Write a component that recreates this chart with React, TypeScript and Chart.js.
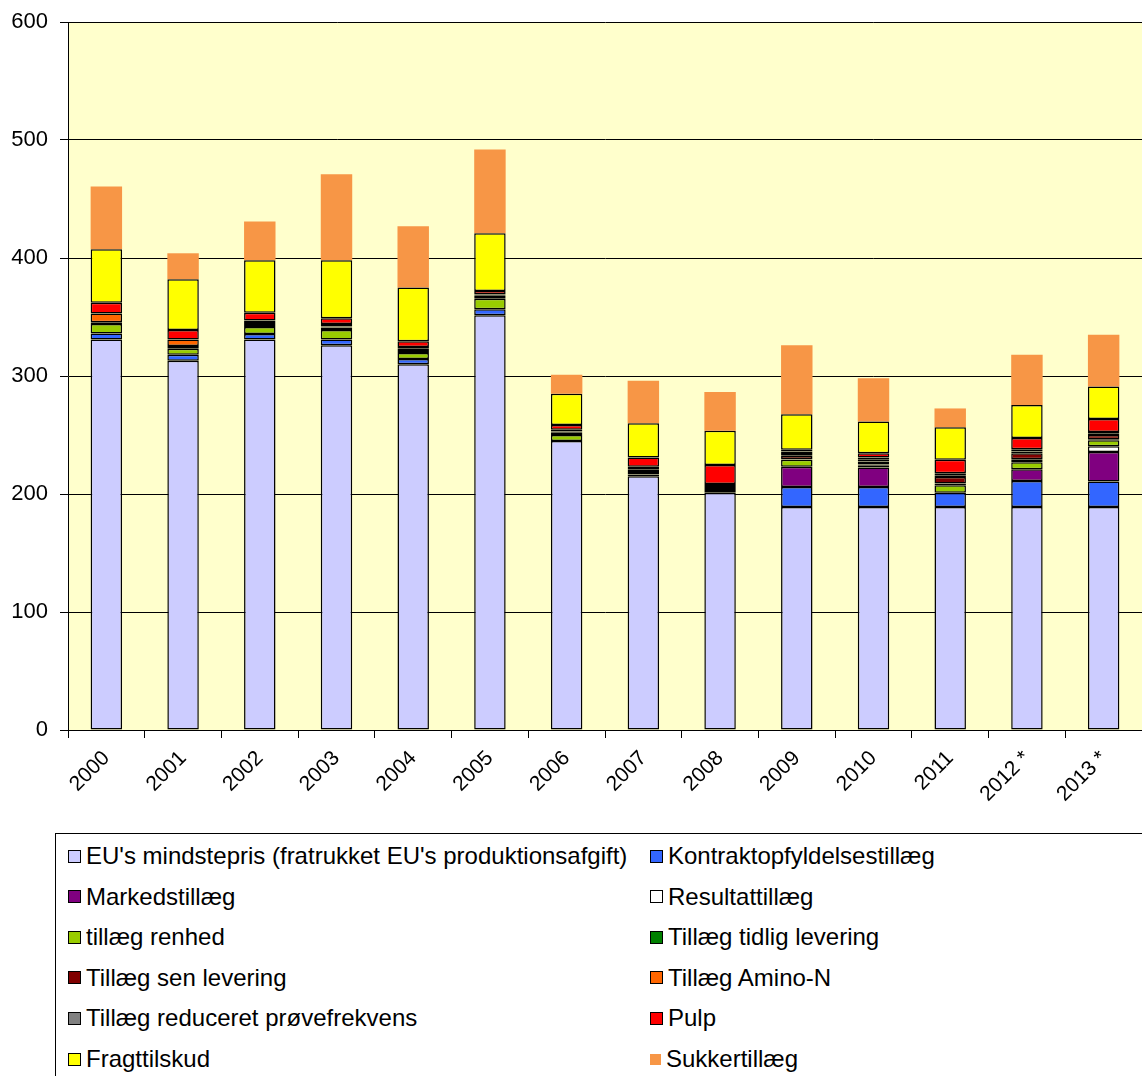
import React, { useEffect, useRef } from "react";
import { Chart, registerables } from "chart.js";

Chart.register(...registerables);

const years = ["2000", "2001", "2002", "2003", "2004", "2005", "2006", "2007", "2008", "2009", "2010", "2011", "2012 *", "2013 *"];
const yTicks = [0, 100, 200, 300, 400, 500, 600];

const euMindstepris = [331, 313, 331, 326, 310, 351.5, 245, 215, 201, 189, 189, 189, 189, 189];
const kontrakt = [5, 5, 4.5, 5, 4.5, 5, 0, 0, 1.5, 17, 17, 12, 22, 21.5];
const marked = [0, 0, 0, 0, 0, 0, 0, 0, 0, 17, 16.5, 0, 10, 25];
const resultat = [0, 0, 0, 0, 0, 0, 0, 0, 0, 0, 0, 0, 0, 5];
const renhed = [8, 5, 6, 8, 5, 9, 5, 1.5, 0, 6, 1.5, 6.5, 6, 5];
const tidlig = [0, 0, 0, 0, 0, 0, 0, 0.5, 0, 0.5, 1, 1.5, 2.5, 1];
const sen = [1.5, 2.5, 2.5, 2, 2.5, 1.5, 2, 2.5, 2.5, 3, 2.5, 5.5, 5, 3.5];
const amino = [7.5, 5.5, 1, 1, 1, 1, 1, 1, 1, 1.5, 1.5, 1, 1.5, 1];
const proeve = [0, 0, 2, 2, 1.5, 1, 1.5, 2.5, 2.5, 2, 2, 2, 2, 1.5];
const pulp = [9, 8, 6.5, 5, 5, 3, 4, 8, 16, 1.5, 3.5, 11.5, 9.5, 11];
const fragt = [45.5, 43, 44.5, 49, 45.5, 49, 26.5, 29, 29, 30, 27, 27.5, 28, 27.5];
const sukker = [53, 22, 33, 73, 52, 71, 16, 36, 33, 58.5, 36.5, 16, 42.5, 44];

const seriesNames = [
  "EU's mindstepris (fratrukket EU's produktionsafgift)",
  "Kontraktopfyldelsestillæg",
  "Markedstillæg",
  "Resultattillæg",
  "tillæg renhed",
  "Tillæg tidlig levering",
  "Tillæg sen levering",
  "Tillæg Amino-N",
  "Tillæg reduceret prøvefrekvens",
  "Pulp",
  "Fragttilskud",
  "Sukkertillæg",
];
const seriesValues = [euMindstepris, kontrakt, marked, resultat, renhed, tidlig, sen, amino, proeve, pulp, fragt, sukker];
const seriesColors = ["#CCCCFF", "#3366FF", "#800080", "#FFFFFF", "#99CC00", "#008000", "#800000", "#FF6600", "#808080", "#FF0000", "#FFFF00", "#F79646"];

const FONT = "'Liberation Sans', Arial, sans-serif";

const plotBg = {
  id: "plotBg",
  beforeDraw(chart: any) {
    const { ctx, chartArea } = chart;
    ctx.save();
    ctx.fillStyle = "#FFFFCC";
    ctx.fillRect(chartArea.left, chartArea.top, chartArea.right - chartArea.left, chartArea.bottom - chartArea.top);
    ctx.restore();
  },
};

export default function App() {
  const ref = useRef<HTMLCanvasElement>(null);

  useEffect(() => {
    document.body.style.margin = "0";
    const datasets = seriesNames.map((name, i) => ({
      label: name,
      data: seriesValues[i].map((v) => (v === 0 ? null : v)),
      backgroundColor: seriesColors[i],
      borderColor: i === seriesNames.length - 1 ? seriesColors[i] : "#000000",
      borderWidth: i === seriesNames.length - 1 ? 0 : 1.5,
      borderSkipped: false as const,
      barPercentage: 0.41,
      categoryPercentage: 1,
    }));
    const chart = new Chart(ref.current!, {
      type: "bar",
      data: { labels: years, datasets },
      plugins: [plotBg],
      options: {
        animation: false,
        responsive: false,
        maintainAspectRatio: false,
        layout: { padding: { top: 0, right: 0, left: 0, bottom: 0 } },
        plugins: { legend: { display: false }, tooltip: { enabled: false } },
        scales: {
          x: {
            stacked: true,
            grid: { drawOnChartArea: false, drawTicks: true, tickLength: 8, color: "#000", offset: true },
            border: { color: "#000", width: 1 },
            ticks: {
              color: "#000",
              font: { family: FONT, size: 21 },
              minRotation: 45,
              maxRotation: 45,
              padding: 8,
              autoSkip: false,
            },
            afterFit: (s: any) => {
              s.height = 100;
            },
          },
          y: {
            stacked: true,
            min: 0,
            max: 600,
            afterBuildTicks: (s: any) => {
              s.ticks = yTicks.map((v) => ({ value: v }));
            },
            grid: { color: "#000", lineWidth: 1, drawTicks: true, tickLength: 8 },
            border: { color: "#000", width: 1 },
            ticks: { color: "#000", font: { family: FONT, size: 22 }, padding: 12 },
            afterFit: (s: any) => {
              s.width = 68;
              s.paddingTop = 22;
              s.paddingBottom = 0;
            },
          },
        },
      },
    });
    return () => chart.destroy();
  }, []);

  return (
    <div style={{ position: "relative", width: 1142, height: 1076, overflow: "hidden", background: "#fff", fontFamily: FONT }}>
      <canvas ref={ref} width={1142} height={830} style={{ position: "absolute", left: 0, top: 0, width: 1142, height: 830 }} />
      <div
        style={{
          position: "absolute",
          left: 55,
          top: 833,
          width: 1200,
          height: 300,
          border: "1px solid #000",
          boxSizing: "border-box",
        }}
      >
        {seriesNames.map((name, i) => {
          const col = i % 2;
          const row = Math.floor(i / 2);
          return (
            <div
              key={name}
              style={{
                position: "absolute",
                left: col === 0 ? 12 : 594,
                top: 8 + row * 40.6,
                height: 28,
                display: "flex",
                alignItems: "center",
                whiteSpace: "nowrap",
                fontSize: 24,
                color: "#000",
              }}
            >
              <span
                style={{
                  display: "inline-block",
                  width: 11,
                  height: 11,
                  background: seriesColors[i],
                  border: i === seriesNames.length - 1 ? "none" : "1px solid #000",
                  marginRight: 5,
                }}
              />
              <span>{name}</span>
            </div>
          );
        })}
      </div>
    </div>
  );
}
